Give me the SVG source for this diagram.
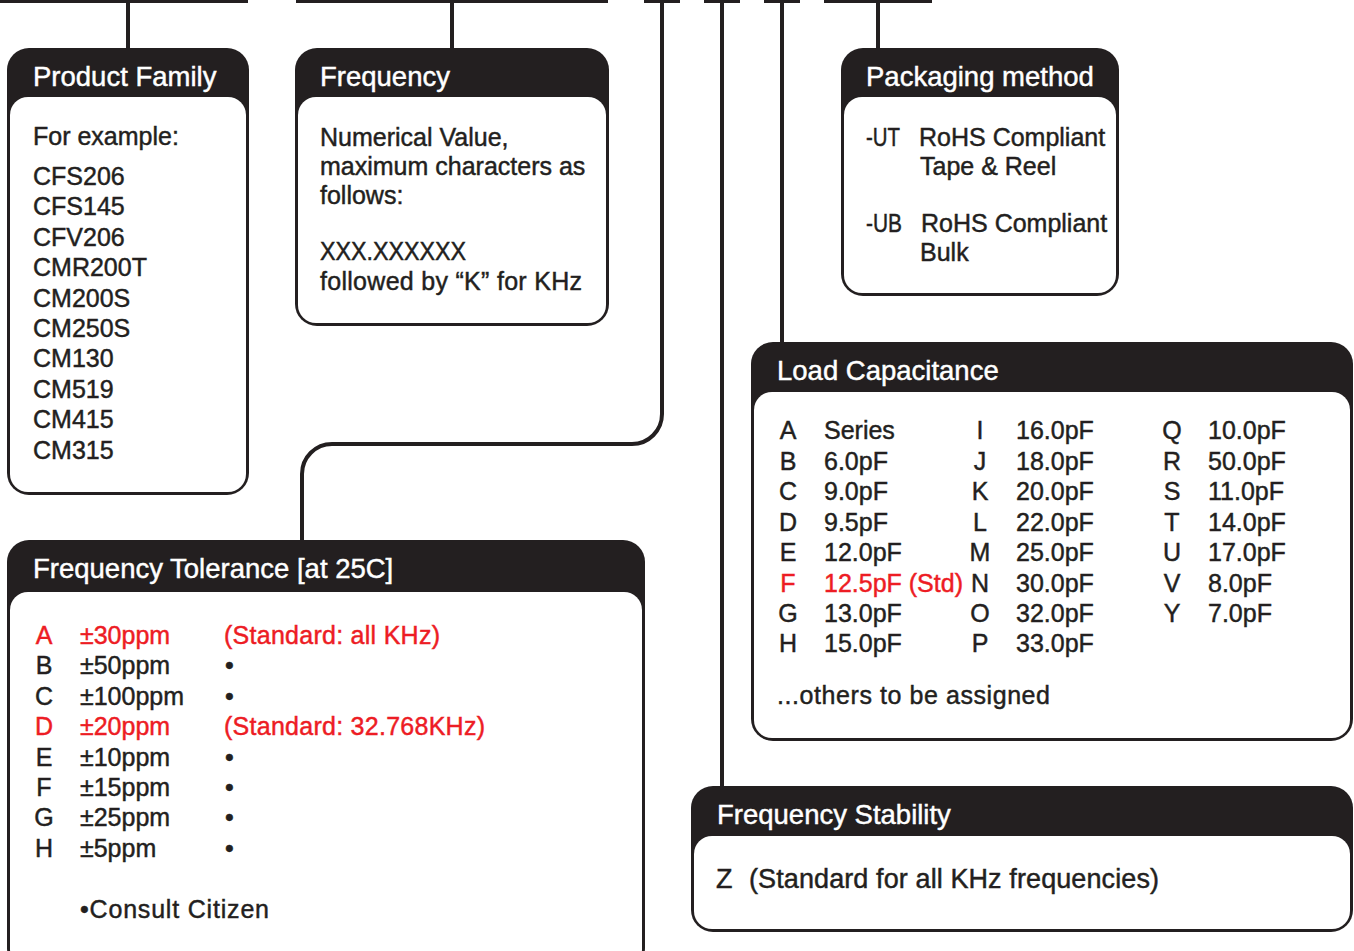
<svg xmlns="http://www.w3.org/2000/svg" width="1354" height="951" viewBox="0 0 1354 951">
<style>
.hd{fill:#231f20}
.bd{fill:#fff}
.ln{fill:none;stroke:#231f20;stroke-width:4}
.bar{fill:#231f20}
text{font-family:"Liberation Sans",Arial,sans-serif;font-size:25px;fill:#231f20;stroke:#231f20;stroke-width:0.45}
.ht{font-size:27.5px;fill:#fff;stroke:#fff}
.r{fill:#ed1c24;stroke:#ed1c24}
.c{text-anchor:middle}
.big{font-size:27px}
</style>
<rect width="1354" height="951" fill="#fff"/>
<g id="connectors">
<rect class="bar" x="0" y="0" width="248" height="3"/>
<rect class="bar" x="296" y="0" width="312" height="3"/>
<rect class="bar" x="644" y="0" width="36" height="3"/>
<rect class="bar" x="704" y="0" width="36" height="3"/>
<rect class="bar" x="764" y="0" width="36" height="3"/>
<rect class="bar" x="824" y="0" width="108" height="3"/>
<path class="ln" d="M128 0V50"/>
<path class="ln" d="M452 0V50"/>
<path class="ln" d="M662 0V414A30 30 0 0 1 632 444H332A30 30 0 0 0 302 474V542"/>
<path class="ln" d="M722 0V788"/>
<path class="ln" d="M782 0V344"/>
<path class="ln" d="M878 0V50"/>
</g>
<g id="product-family">
<rect class="hd" x="7" y="48" width="242" height="447" rx="22"/>
<rect class="bd" x="10" y="97" width="236" height="395" rx="18"/>
<text class="ht" x="33" y="86">Product Family</text>
<text x="33" y="145">For example:</text>
<text x="33" y="185">CFS206</text>
<text x="33" y="215.4">CFS145</text>
<text x="33" y="245.8">CFV206</text>
<text x="33" y="276.2">CMR200T</text>
<text x="33" y="306.6">CM200S</text>
<text x="33" y="337">CM250S</text>
<text x="33" y="367.4">CM130</text>
<text x="33" y="397.8">CM519</text>
<text x="33" y="428.2">CM415</text>
<text x="33" y="458.6">CM315</text>
</g>
<g id="frequency">
<rect class="hd" x="295" y="48" width="314" height="278" rx="22"/>
<rect class="bd" x="298" y="97" width="308" height="226" rx="18"/>
<text class="ht" x="320" y="86">Frequency</text>
<text x="320" y="146">Numerical Value,</text>
<text x="320" y="175">maximum characters as</text>
<text x="320" y="204">follows:</text>
<text x="320" y="260" textLength="146" lengthAdjust="spacingAndGlyphs">XXX.XXXXXX</text>
<text x="320" y="290" textLength="262">followed by “K” for KHz</text>
</g>
<g id="packaging">
<rect class="hd" x="841" y="48" width="278" height="248" rx="22"/>
<rect class="bd" x="844" y="97" width="272" height="196" rx="18"/>
<text class="ht" x="866" y="86">Packaging method</text>
<text x="866" y="146" textLength="34" lengthAdjust="spacingAndGlyphs">-UT</text>
<text x="919" y="146">RoHS Compliant</text>
<text x="920" y="175">Tape &amp; Reel</text>
<text x="866" y="232" textLength="36" lengthAdjust="spacingAndGlyphs">-UB</text>
<text x="921" y="232">RoHS Compliant</text>
<text x="920" y="261">Bulk</text>
</g>
<g id="load-capacitance">
<rect class="hd" x="751" y="342" width="602" height="399" rx="22"/>
<rect class="bd" x="754" y="392" width="596" height="346" rx="18"/>
<text class="ht" x="777" y="380">Load Capacitance</text>
<text class="c" x="788" y="439">A</text><text x="824" y="439">Series</text>
<text class="c" x="788" y="470">B</text><text x="824" y="470">6.0pF</text>
<text class="c" x="788" y="500">C</text><text x="824" y="500">9.0pF</text>
<text class="c" x="788" y="531">D</text><text x="824" y="531">9.5pF</text>
<text class="c" x="788" y="561">E</text><text x="824" y="561">12.0pF</text>
<text class="c r" x="788" y="592">F</text><text class="r" x="824" y="592">12.5pF (Std)</text>
<text class="c" x="788" y="622">G</text><text x="824" y="622">13.0pF</text>
<text class="c" x="788" y="652">H</text><text x="824" y="652">15.0pF</text>
<text class="c" x="980" y="439">I</text><text x="1016" y="439">16.0pF</text>
<text class="c" x="980" y="470">J</text><text x="1016" y="470">18.0pF</text>
<text class="c" x="980" y="500">K</text><text x="1016" y="500">20.0pF</text>
<text class="c" x="980" y="531">L</text><text x="1016" y="531">22.0pF</text>
<text class="c" x="980" y="561">M</text><text x="1016" y="561">25.0pF</text>
<text class="c" x="980" y="592">N</text><text x="1016" y="592">30.0pF</text>
<text class="c" x="980" y="622">O</text><text x="1016" y="622">32.0pF</text>
<text class="c" x="980" y="652">P</text><text x="1016" y="652">33.0pF</text>
<text class="c" x="1172" y="439">Q</text><text x="1208" y="439">10.0pF</text>
<text class="c" x="1172" y="470">R</text><text x="1208" y="470">50.0pF</text>
<text class="c" x="1172" y="500">S</text><text x="1208" y="500">11.0pF</text>
<text class="c" x="1172" y="531">T</text><text x="1208" y="531">14.0pF</text>
<text class="c" x="1172" y="561">U</text><text x="1208" y="561">17.0pF</text>
<text class="c" x="1172" y="592">V</text><text x="1208" y="592">8.0pF</text>
<text class="c" x="1172" y="622">Y</text><text x="1208" y="622">7.0pF</text>
<text x="777" y="704" textLength="273">...others to be assigned</text>
</g>
<g id="frequency-tolerance">
<rect class="hd" x="7" y="540" width="638" height="430" rx="22"/>
<rect class="bd" x="10" y="592" width="632" height="375" rx="18"/>
<text class="ht" x="33" y="578">Frequency Tolerance [at 25C]</text>
<text class="c r" x="44" y="644">A</text><text class="r" x="80" y="644">±30ppm</text><text class="r" x="224" y="644" textLength="216">(Standard: all KHz)</text>
<text class="c" x="44" y="674">B</text><text x="80" y="674">±50ppm</text><text x="225" y="674">•</text>
<text class="c" x="44" y="705">C</text><text x="80" y="705">±100ppm</text><text x="225" y="705">•</text>
<text class="c r" x="44" y="735">D</text><text class="r" x="80" y="735">±20ppm</text><text class="r" x="224" y="735" textLength="261">(Standard: 32.768KHz)</text>
<text class="c" x="44" y="766">E</text><text x="80" y="766">±10ppm</text><text x="225" y="766">•</text>
<text class="c" x="44" y="796">F</text><text x="80" y="796">±15ppm</text><text x="225" y="796">•</text>
<text class="c" x="44" y="826">G</text><text x="80" y="826">±25ppm</text><text x="225" y="826">•</text>
<text class="c" x="44" y="857">H</text><text x="80" y="857">±5ppm</text><text x="225" y="857">•</text>
<text x="80" y="918" textLength="189">•Consult Citizen</text>
</g>
<g id="frequency-stability">
<rect class="hd" x="691" y="786" width="662" height="146" rx="22"/>
<rect class="bd" x="694" y="836" width="656" height="93" rx="18"/>
<text class="ht" x="717" y="824">Frequency Stability</text>
<text class="big" x="716" y="888">Z</text>
<text class="big" x="749" y="888" textLength="410">(Standard for all KHz frequencies)</text>
</g>
</svg>
